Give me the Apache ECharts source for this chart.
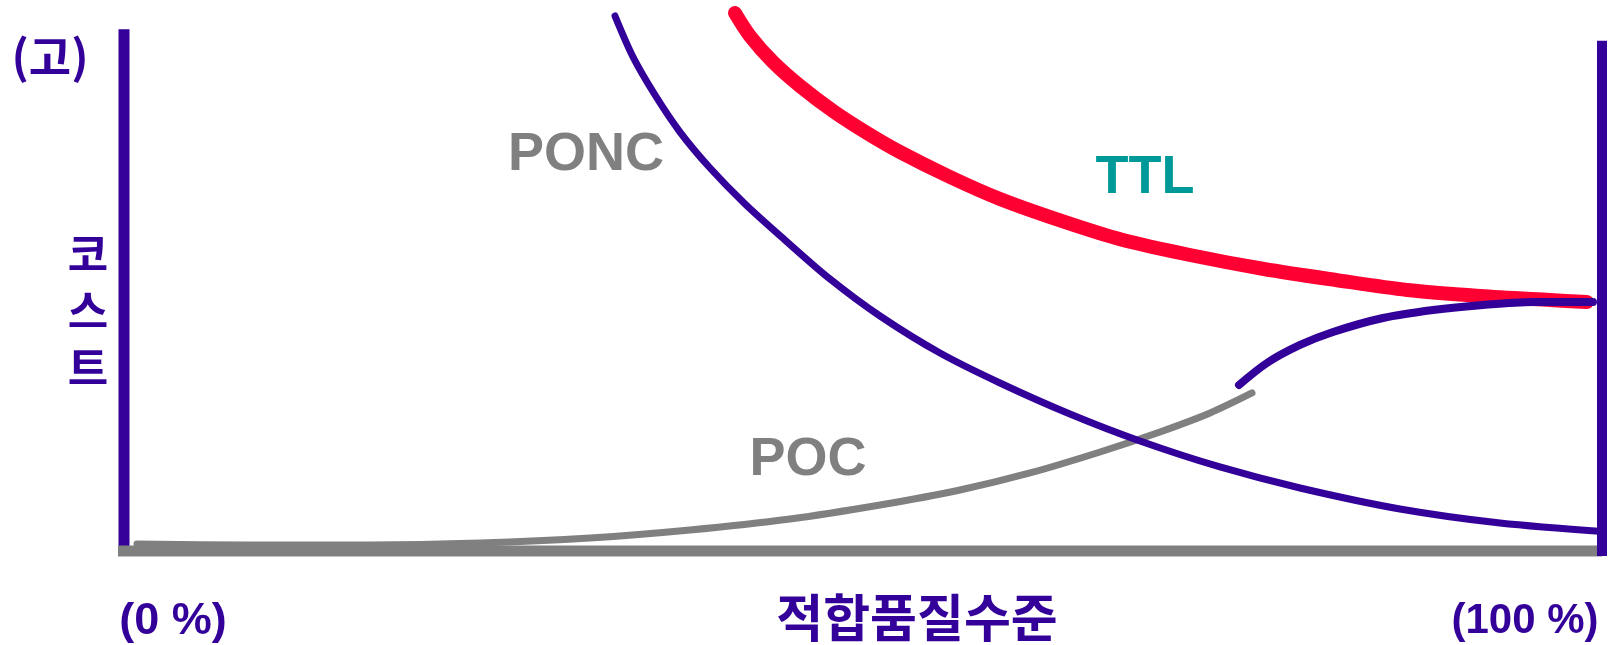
<!DOCTYPE html>
<html>
<head>
<meta charset="utf-8">
<script src="https://cdn.jsdelivr.net/npm/echarts@6/dist/echarts.min.js"></script>
<style>
html,body{margin:0;padding:0;background:#fff;}
#chart{width:1612px;height:645px;}
</style>
</head>
<body>
<div id="chart"></div>
<script>
// x: 적합품질수준 (0..100 %), y: 코스트 (0..100)
const poncData = [[33.22,97.10],[34.44,89.66],[35.93,82.76],[37.62,76.04],[39.65,69.51],[42.02,62.98],[44.72,56.44],[47.77,49.36],[51.15,42.65],[55.21,35.93],[59.27,30.49],[64.00,24.86],[68.74,19.96],[74.15,15.25],[79.57,11.43],[86.33,7.62],[93.10,5.08],[100.54,3.45]];
const ttlData = [[41.34,97.64],[42.35,93.47],[43.91,88.75],[45.74,84.39],[47.97,79.85],[50.27,75.86],[52.50,72.41],[55.89,67.88],[59.27,63.88],[63.33,60.00],[67.46,56.53],[72.12,53.72],[77.13,51.18],[82.00,49.18],[86.81,47.37],[91.75,46.28],[96.48,45.55],[98.98,45.19]];
const pocData = [[0.88,1.27],[8.53,1.09],[16.64,1.09],[24.09,1.45],[31.53,2.36],[38.29,3.81],[45.06,5.81],[51.15,8.35],[56.56,11.07],[61.30,14.16],[66.04,17.97],[70.09,21.60],[73.48,25.05],[76.32,28.68]];
const pocUpperData = [[75.44,30.13],[77.33,34.12],[79.57,37.39],[81.80,39.75],[85.18,42.29],[88.57,43.74],[91.95,44.65],[95.33,45.19],[99.39,45.19]];
const leftAxisData = [[0,0.9],[0,94.7]];
const rightAxisData = [[100,-0.9],[100,92.6]];
const baselineData = [[-0.6,0],[100,0]];

const curveLabels = ['PONC','TTL','POC'];
const yAxisName = '코스트';
const yTopLabel = '(고)';
const xAxisName = '적합품질수준';
const xTickLabels = ['(0 %)','(100 %)'];

const PURPLE = '#330099', RED = '#ff0033', GRAY = '#808080', TEAL = '#009999';
const LATIN = '"Liberation Sans", Arial, sans-serif';
const KR = '"Noto Sans CJK KR", "Liberation Sans", sans-serif';

function lineSeries(data, color, width, cap, smooth, z) {
  return {
    type: 'line', data: data, symbol: 'none', clip: false, z: z,
    smooth: smooth,
    lineStyle: { color: color, width: width, cap: cap, join: 'round' },
    silent: true
  };
}

const chart = echarts.init(document.getElementById('chart'), null, {renderer: 'canvas'});
function txt(text, x, y, size, color, font, lineHeight) {
  const style = { text: text, fill: color, font: 'bold ' + size + 'px ' + font, align: 'center', verticalAlign: 'middle' };
  if (lineHeight) style.lineHeight = lineHeight;
  return { type: 'text', x: x, y: y, silent: true, style: style };
}
chart.setOption({
  animation: false,
  backgroundColor: '#ffffff',
  grid: { left: 124, right: 10, top: 0, bottom: 94 },
  xAxis: { type: 'value', min: 0, max: 100, show: false },
  yAxis: { type: 'value', min: 0, max: 100, show: false },
  series: [
    lineSeries(leftAxisData, PURPLE, 11, 'butt', false, 1),
    lineSeries(baselineData, GRAY, 11, 'butt', false, 2),
    lineSeries(rightAxisData, PURPLE, 10, 'butt', false, 3),
    lineSeries(pocData, GRAY, 7, 'round', 0.3, 4),
    lineSeries(poncData, PURPLE, 7, 'round', 0.3, 5),
    lineSeries(ttlData, RED, 14, 'round', 0.3, 6),
    lineSeries(pocUpperData, PURPLE, 8, 'round', 0.3, 7)
  ],
  graphic: [
    txt(yTopLabel, 50, 57, 46, PURPLE, KR),
    txt(yAxisName.split('').join('\n'), 88, 311, 44, PURPLE, KR, 57),
    txt(curveLabels[0], 586, 155, 54, GRAY, LATIN),
    txt(curveLabels[1], 1145, 178, 54, TEAL, LATIN),
    txt(curveLabels[2], 808, 460, 54, GRAY, LATIN),
    txt(xTickLabels[0], 173, 622, 45, PURPLE, LATIN),
    txt(xTickLabels[1], 1525, 621, 42, PURPLE, LATIN),
    txt(xAxisName, 917, 618, 51, PURPLE, KR)
  ]
});
</script>
</body>
</html>
